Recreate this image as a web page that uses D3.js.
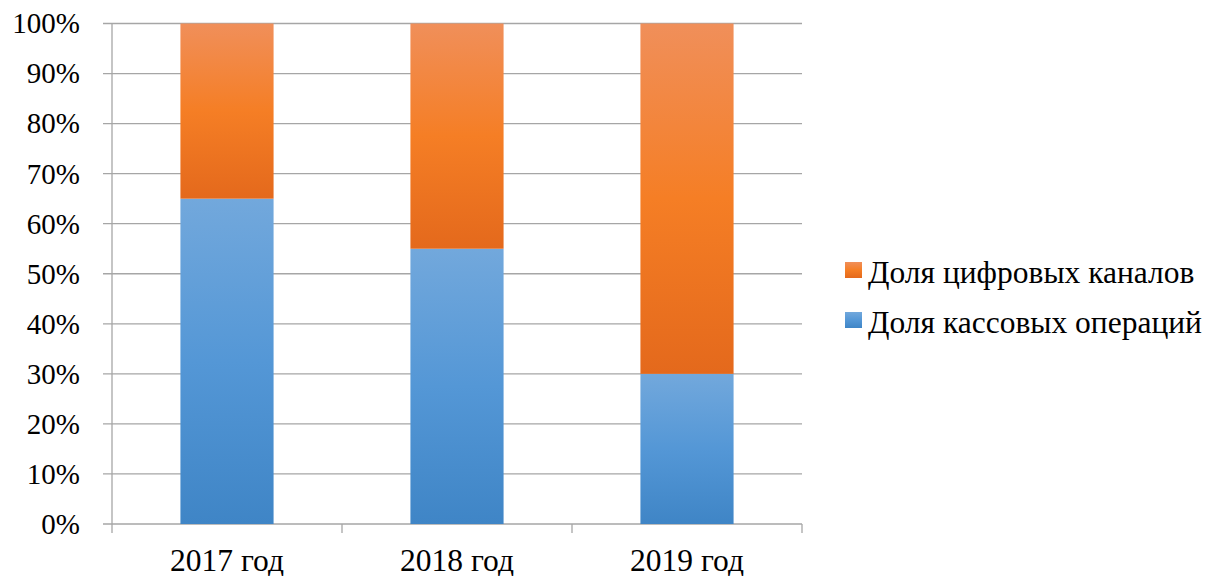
<!DOCTYPE html>
<html>
<head>
<meta charset="utf-8">
<script src="https://cdn.jsdelivr.net/npm/d3@7"></script>
<style>
  html, body { margin: 0; padding: 0; background: #fff; }
  svg { display: block; }
</style>
</head>
<body>
<svg id="chart" width="1211" height="576"></svg>
<script>
// Share of operations by channel, per year (percent)
const categories = ["2017 год", "2018 год", "2019 год"];
const cashShare = [65, 55, 30];      // Доля кассовых операций
const digitalShare = [35, 45, 70];   // Доля цифровых каналов
const seriesNames = ["Доля кассовых операций", "Доля цифровых каналов"];
const yTicks = [0, 10, 20, 30, 40, 50, 60, 70, 80, 90, 100];

const FONT = "Liberation Serif";
const svg = d3.select("#chart");
const margin = { left: 112, right: 409, top: 23.5, bottom: 52 };
const W = 1211, H = 576;
const x0 = margin.left, x1 = W - margin.right;
const yTop = margin.top, yBot = H - margin.bottom;

const x = d3.scaleBand().domain(categories).range([x0, x1]).paddingInner(0.595).paddingOuter(0.2975);
const y = d3.scaleLinear().domain([0, 100]).range([yBot, yTop]);

// vertical gradient fills, light at top and darker at the bottom
const defs = svg.append("defs");
const gradients = {
  cash: [["0%", "#72a8dc"], ["50%", "#5497d6"], ["100%", "#3f85c6"]],
  digital: [["0%", "#f08f5a"], ["50%", "#f57e25"], ["100%", "#e4691c"]]
};
Object.entries(gradients).forEach(([id, stops]) => {
  const g = defs.append("linearGradient").attr("id", "grad-" + id)
    .attr("x1", 0).attr("y1", 0).attr("x2", 0).attr("y2", 1);
  stops.forEach(([o, c]) => g.append("stop").attr("offset", o).attr("stop-color", c));
});

// horizontal gridlines
svg.append("g").selectAll("line").data(yTicks).join("line")
  .attr("x1", x0 - 9).attr("x2", x1)
  .attr("y1", d => y(d)).attr("y2", d => y(d))
  .attr("stroke", "#a6a6a6").attr("stroke-width", 1.3);

// y axis line
svg.append("line").attr("x1", x0).attr("x2", x0).attr("y1", yTop).attr("y2", yBot)
  .attr("stroke", "#a6a6a6").attr("stroke-width", 1.3);

// category separators below the axis
const bounds = [x0].concat(categories.map((c, i) => x0 + (x1 - x0) * (i + 1) / categories.length));
svg.append("g").selectAll("line").data(bounds).join("line")
  .attr("x1", d => d).attr("x2", d => d).attr("y1", yBot).attr("y2", yBot + 9)
  .attr("stroke", "#a6a6a6").attr("stroke-width", 1.3);

// stacked bars
const stackData = categories.map((c, i) => ({ cat: c, cash: cashShare[i], digital: digitalShare[i] }));
const stacked = d3.stack().keys(["cash", "digital"])(stackData);
svg.append("g").selectAll("g").data(stacked).join("g")
  .attr("fill", s => `url(#grad-${s.key})`)
  .selectAll("rect").data(s => s).join("rect")
  .attr("x", d => x(d.data.cat))
  .attr("width", x.bandwidth())
  .attr("y", d => y(d[1]))
  .attr("height", d => y(d[0]) - y(d[1]));

// y tick labels
svg.append("g").selectAll("text").data(yTicks).join("text")
  .attr("x", 80).attr("y", d => y(d)).attr("dy", "0.34em")
  .attr("text-anchor", "end").attr("font-size", 29).style("font-family", FONT).attr("fill", "#000")
  .text(d => d + "%");

// category labels
svg.append("g").selectAll("text").data(categories).join("text")
  .attr("x", d => x(d) + x.bandwidth() / 2).attr("y", 571)
  .attr("text-anchor", "middle").attr("font-size", 31.5).style("font-family", FONT).attr("fill", "#000")
  .text(d => d);

// legend (digital on top, cash below)
const legendItems = [
  { name: seriesNames[1], key: "digital" },
  { name: seriesNames[0], key: "cash" }
];
const lg = svg.append("g").selectAll("g").data(legendItems).join("g")
  .attr("transform", (d, i) => `translate(845, ${262 + i * 50})`);
lg.append("rect").attr("width", 17).attr("height", 16)
  .attr("fill", d => `url(#grad-${d.key})`);
lg.append("text").attr("x", 23).attr("y", 21)
  .attr("font-size", 31.5).style("font-family", FONT).attr("fill", "#000")
  .text(d => d.name);
</script>
</body>
</html>
